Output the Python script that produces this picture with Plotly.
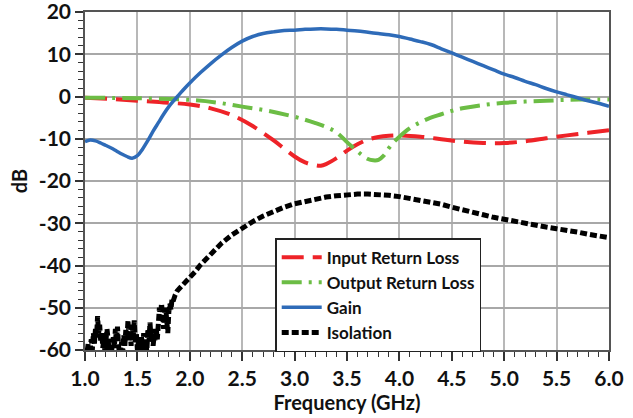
import plotly.graph_objects as go

FONT = "Lato, Roboto, Noto Sans, sans-serif"

# ---- Data ----
freq_gain = [1.0, 1.05, 1.1, 1.15, 1.2, 1.25, 1.3, 1.35, 1.4, 1.45, 1.5, 1.55, 1.6, 1.65, 1.7, 1.75,
             1.8, 1.85, 1.9, 1.95, 2.0, 2.1, 2.2, 2.3, 2.4, 2.5, 2.6, 2.7, 2.8, 2.9, 3.0, 3.1, 3.2,
             3.3, 3.4, 3.5, 3.6, 3.7, 3.8, 3.9, 4.0, 4.1, 4.2, 4.3, 4.4, 4.5, 4.6, 4.7, 4.8, 4.9,
             5.0, 5.1, 5.2, 5.3, 5.4, 5.5, 5.6, 5.7, 5.8, 5.9, 6.0]
gain = [-10.7, -10.3, -10.5, -11.0, -11.6, -12.2, -12.9, -13.6, -14.2, -14.6, -14.0, -12.4, -10.4,
        -8.2, -6.2, -4.2, -2.4, -0.9, 0.5, 1.9, 3.2, 5.6, 7.8, 9.8, 11.6, 13.1, 14.2, 14.9, 15.3,
        15.6, 15.7, 15.9, 16.0, 16.0, 15.9, 15.7, 15.5, 15.2, 14.9, 14.6, 14.2, 13.6, 13.0, 12.3,
        11.3, 10.3, 9.3, 8.3, 7.3, 6.3, 5.3, 4.5, 3.6, 2.8, 1.9, 1.1, 0.4, -0.3, -1.0, -1.6, -2.3]

freq_irl = [1.0, 1.25, 1.5, 1.75, 2.0, 2.2, 2.4, 2.6, 2.8, 2.9, 3.0, 3.1, 3.2, 3.25, 3.3, 3.4, 3.5,
            3.6, 3.7, 3.8, 3.9, 4.0, 4.2, 4.4, 4.6, 4.8, 5.0, 5.2, 5.4, 5.6, 5.8, 6.0]
input_rl = [-0.3, -0.6, -1.0, -1.4, -1.9, -2.8, -4.4, -7.0, -10.4, -12.3, -14.2, -15.6, -16.3,
            -16.4, -16.0, -14.6, -12.8, -11.3, -10.2, -9.6, -9.3, -9.2, -9.5, -10.1, -10.7, -11.0,
            -11.0, -10.6, -9.9, -9.2, -8.6, -8.0]

freq_orl = [1.0, 1.5, 2.0, 2.25, 2.5, 2.75, 3.0, 3.1, 3.2, 3.3, 3.4, 3.5, 3.55, 3.6, 3.65, 3.7,
            3.75, 3.8, 3.85, 3.9, 3.95, 4.0, 4.1, 4.2, 4.3, 4.4, 4.5, 4.6, 4.8, 5.0, 5.2, 5.4, 5.6,
            5.8, 6.0]
output_rl = [-0.3, -0.4, -0.8, -1.4, -2.4, -3.4, -4.8, -5.5, -6.3, -7.2, -8.5, -10.8, -11.9, -13.0,
             -14.0, -14.8, -15.1, -15.0, -14.0, -12.2, -10.7, -9.5, -7.5, -6.1, -5.0, -4.2, -3.4,
             -2.8, -2.0, -1.5, -1.2, -1.0, -0.8, -0.7, -0.7]

freq_iso = [1.00, 1.01, 1.02, 1.03, 1.04, 1.05, 1.06, 1.07, 1.08, 1.09, 1.10, 1.11, 1.12, 1.13,
            1.14, 1.15, 1.16, 1.17, 1.18, 1.19, 1.20, 1.21, 1.22, 1.23, 1.24, 1.25, 1.26, 1.27,
            1.28, 1.29, 1.30, 1.31, 1.32, 1.33, 1.34, 1.35, 1.36, 1.37, 1.38, 1.39, 1.40, 1.41,
            1.42, 1.43, 1.44, 1.45, 1.46, 1.47, 1.48, 1.49, 1.50, 1.51, 1.52, 1.53, 1.54, 1.55,
            1.56, 1.57, 1.58, 1.59, 1.60, 1.61, 1.62, 1.63, 1.64, 1.65, 1.66, 1.67, 1.68, 1.69,
            1.70, 1.71, 1.72, 1.73, 1.74, 1.75, 1.76, 1.77, 1.78, 1.79, 1.80, 1.81, 1.82, 1.83,
            1.84, 1.85, 1.86, 1.88, 1.90, 1.95, 2.0, 2.05, 2.1, 2.2, 2.3, 2.4, 2.5, 2.6, 2.7, 2.8,
            2.9, 3.0, 3.1, 3.2, 3.3, 3.4, 3.5, 3.6, 3.7, 3.8, 3.9, 4.0, 4.1, 4.2, 4.3, 4.4, 4.5,
            4.6, 4.7, 4.8, 4.9, 5.0, 5.1, 5.2, 5.3, 5.4, 5.5, 5.6, 5.7, 5.8, 5.9, 6.0]
isolation = [-59.5, -61, -60.5, -58.5, -61, -59, -57.5, -60, -56, -58.5, -55, -57, -52, -56,
             -54, -58, -56, -59.5, -57, -60.5, -58, -55, -57.5, -60, -58.5, -61, -59, -57,
             -59.5, -55, -58, -54.5, -59, -61, -60, -58, -60.5, -56.5, -59, -55, -57.5, -53,
             -58, -55.5, -59, -54, -57, -53, -58.5, -56, -60, -58, -61, -59.5, -57, -60,
             -56, -59, -57.5, -60.5, -55, -58, -53.5, -57, -55, -59, -56.5, -58, -55, -57.5,
             -53, -50, -52.5, -49, -51.5, -55, -51, -50, -53, -56, -51, -49, -50.5, -48,
             -48.5, -47.5, -47, -46, -45.5, -44, -42.6, -41.5, -39.9, -37.2, -34.8, -32.8, -31.1,
             -29.6, -28.3, -27.2, -26.2, -25.4, -24.8, -24.2, -23.8, -23.5, -23.2, -23.1, -23.1,
             -23.2, -23.4, -23.7, -24.1, -24.5, -24.9, -25.5, -26.2, -26.9, -27.5, -28.0, -28.6,
             -29.1, -29.6, -30.0, -30.5, -30.9, -31.3, -31.6, -32.1, -32.6, -33.0, -33.4]

x_ticks = [1.0, 1.5, 2.0, 2.5, 3.0, 3.5, 4.0, 4.5, 5.0, 5.5, 6.0]
x_tick_labels = ["1.0", "1.5", "2.0", "2.5", "3.0", "3.5", "4.0", "4.5", "5.0", "5.5", "6.0"]
y_ticks = [-60, -50, -40, -30, -20, -10, 0, 10, 20]
y_tick_labels = ["-60", "-50", "-40", "-30", "-20", "-10", "0", "10", "20"]

fig = go.Figure()
fig.add_trace(go.Scatter(x=freq_irl, y=input_rl, mode="lines", name="Input Return Loss",
                         line=dict(color="#ee2328", width=4, dash="22px,9px", shape="spline")))
fig.add_trace(go.Scatter(x=freq_orl, y=output_rl, mode="lines", name="Output Return Loss",
                         line=dict(color="#6cbd45", width=4, dash="20px,7px,3px,7px", shape="spline")))
fig.add_trace(go.Scatter(x=freq_gain, y=gain, mode="lines", name="Gain",
                         line=dict(color="#2e6bb8", width=3.5, shape="spline")))
fig.add_trace(go.Scatter(x=freq_iso, y=isolation, mode="lines", name="Isolation",
                         line=dict(color="#000000", width=5, dash="7px,3px")))

axis_font = dict(family=FONT, size=21, color="#111", weight="bold")
title_font = dict(family=FONT, size=20, color="#111", weight="bold")

fig.update_layout(
    width=633, height=418,
    margin=dict(l=85, r=24, t=12, b=68, autoexpand=False),
    paper_bgcolor="white", plot_bgcolor="white",
    showlegend=True,
    legend=dict(x=0.363, y=0.331, xanchor="left", yanchor="top",
                bgcolor="white", bordercolor="#222", borderwidth=1.5,
                font=dict(family=FONT, size=17, color="#111", weight="bold"),
                tracegroupgap=0, itemwidth=40),
    xaxis=dict(range=[1.0, 6.0], tickvals=x_ticks, ticktext=x_tick_labels, automargin=False,
               ticklabeloverflow="allow",
               showgrid=True, gridcolor="#b8b8b8", gridwidth=1.5,
               showline=True, linecolor="#555", linewidth=1.5, mirror=True,
               ticks="outside", ticklen=9, tickwidth=1.5, tickcolor="#333",
               minor=dict(dtick=0.1, ticks="outside", ticklen=5, tickwidth=1.2,
                          tickcolor="#333", showgrid=False),
               tickfont=axis_font, zeroline=False,
               title=dict(text="Frequency (GHz)", font=title_font, standoff=2)),
    yaxis=dict(range=[-60, 20], tickvals=y_ticks, ticktext=y_tick_labels, automargin=False,
               ticklabeloverflow="allow",
               showgrid=True, gridcolor="#a8a8a8", gridwidth=1.5,
               showline=True, linecolor="#555", linewidth=1.5, mirror=True,
               ticks="outside", ticklen=8, tickwidth=1.5, tickcolor="#333",
               minor=dict(dtick=2, ticks="outside", ticklen=5, tickwidth=1.2,
                          tickcolor="#333", showgrid=False),
               tickfont=axis_font, zeroline=False,
               title=dict(text="dB", font=title_font, standoff=6)),
)

fig.write_html("out.html", config={"displayModeBar": False},
               post_script="document.body.style.margin='0';document.body.style.overflow='hidden';")
